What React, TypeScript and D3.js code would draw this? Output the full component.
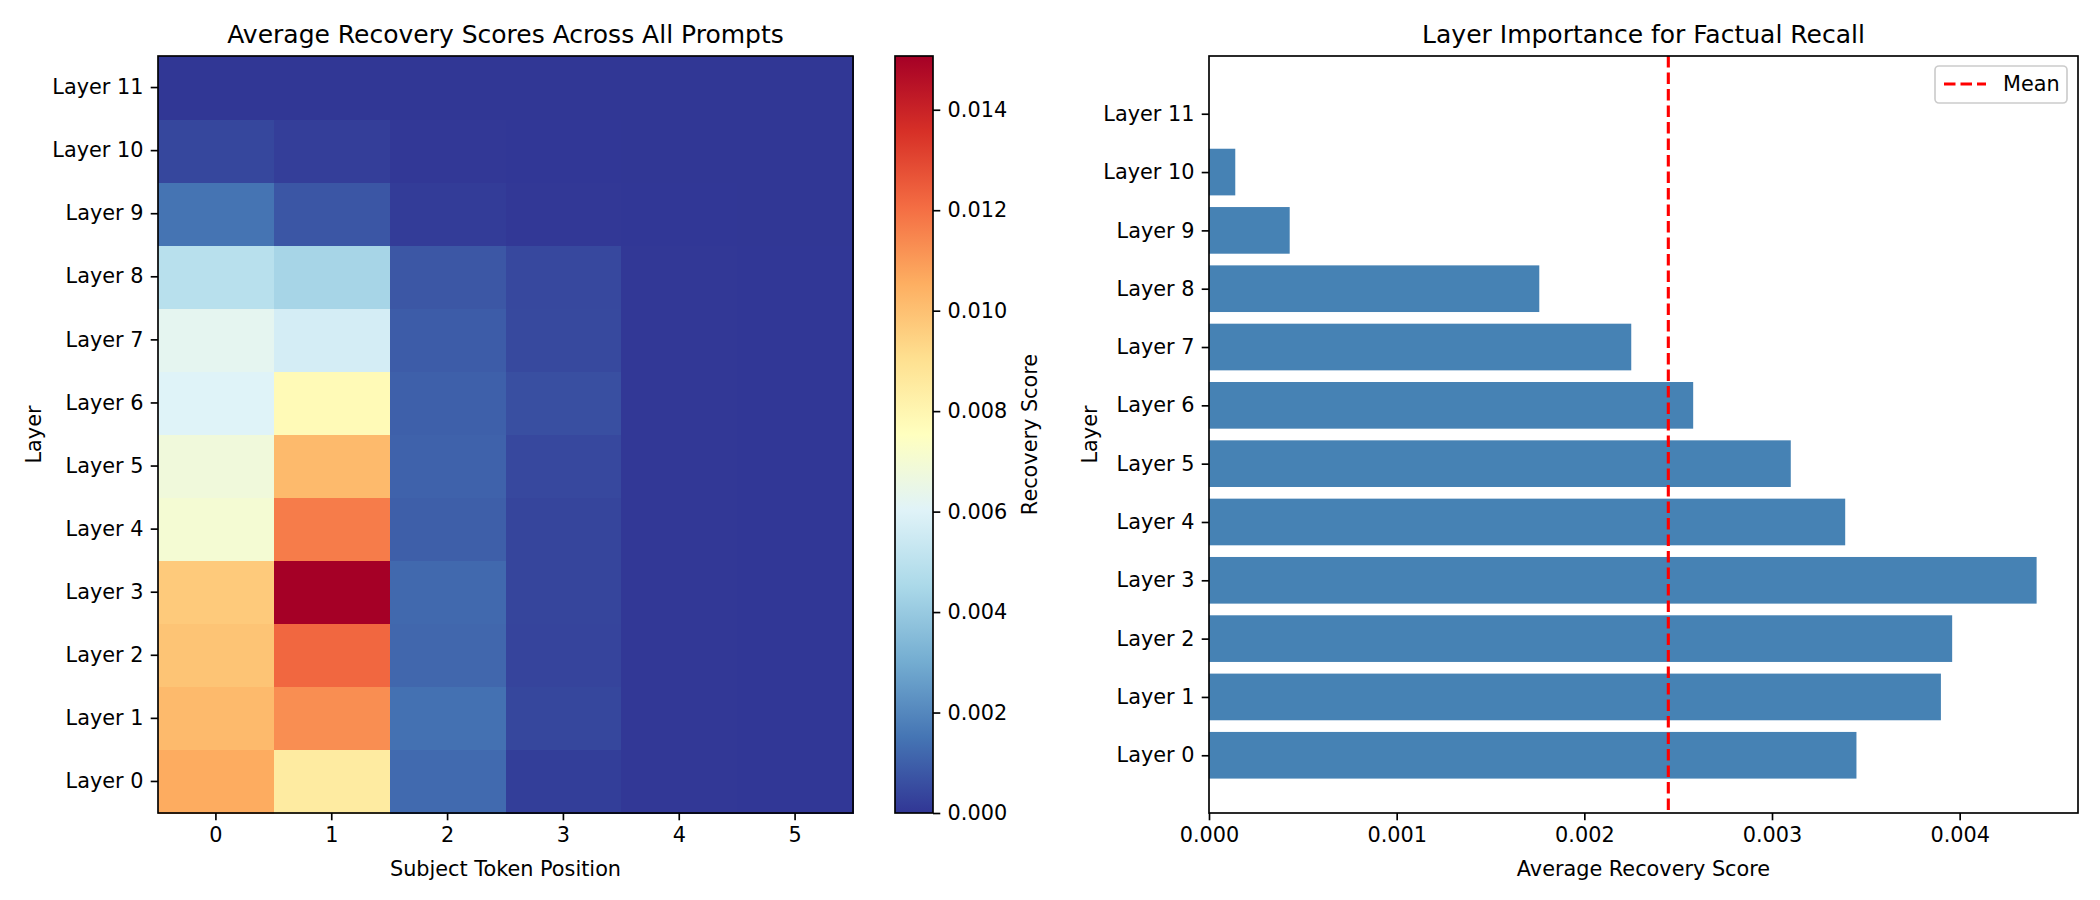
import * as d3 from "d3";
import { useEffect, useRef } from "react";

// --- data ---
const layerLabels = [
  "Layer 0", "Layer 1", "Layer 2", "Layer 3", "Layer 4", "Layer 5",
  "Layer 6", "Layer 7", "Layer 8", "Layer 9", "Layer 10", "Layer 11",
];
const tokenPositions = [0, 1, 2, 3, 4, 5];

// recovery score per layer (row) and subject token position (column)
const recoveryByLayer = [
  [0.0106, 0.0085, 0.00124, 0.00018, 0.00004, 0.00003], // layer 0
  [0.0102, 0.0113, 0.00142, 0.0004, 0.00004, 0.00003], // layer 1
  [0.0099, 0.0122, 0.00118, 0.00034, 0.00004, 0.00003], // layer 2
  [0.0097, 0.01507, 0.00122, 0.00036, 0.00004, 0.00003], // layer 3
  [0.007, 0.0117, 0.00098, 0.00036, 0.00004, 0.00003], // layer 4
  [0.0068, 0.0102, 0.00106, 0.00044, 0.00004, 0.00003], // layer 5
  [0.006, 0.0078, 0.001, 0.0006, 0.00004, 0.00003], // layer 6
  [0.00625, 0.0057, 0.0009, 0.00045, 0.00004, 0.00003], // layer 7
  [0.0049, 0.0044, 0.0008, 0.00044, 0.00004, 0.00003], // layer 8
  [0.00148, 0.00076, 0.00015, 0.00005, 0.00003, 0.00002], // layer 9
  [0.0004, 0.0002, 0.00005, 0.00003, 0.00002, 0.00002], // layer 10
  [0.00002, 0.00002, 0.00002, 0.00002, 0.00002, 0.00002], // layer 11
];

const layerImportance = [
  0.00345, 0.0039, 0.00396, 0.00441, 0.00339, 0.0031,
  0.00258, 0.00225, 0.00176, 0.00043, 0.00014, 0,
];

const colorbarTicks = [0, 0.002, 0.004, 0.006, 0.008, 0.01, 0.012, 0.014];
const importanceTicks = [0, 0.001, 0.002, 0.003, 0.004];

// matplotlib RdYlBu_r
const rdylbuR = [
  "#313695", "#4575b4", "#74add1", "#abd9e9", "#e0f3f8", "#ffffbf",
  "#fee090", "#fdae61", "#f46d43", "#d73027", "#a50026",
];

const W = 2100;
const H = 900;
const FONT = "DejaVu Sans";
const FS = 20.8;
const LW = 1.67;
const TICK = 7.3;

function styleAxis(g: d3.Selection<SVGGElement, unknown, null, undefined>) {
  g.select(".domain").remove();
  g.selectAll(".tick line").attr("stroke", "#000").attr("stroke-width", LW);
  g.selectAll(".tick text")
    .attr("fill", "#000")
    .attr("font-family", FONT)
    .attr("font-size", FS);
}

function App() {
  const ref = useRef<SVGSVGElement>(null);

  useEffect(() => {
    const svg = d3.select(ref.current);
    svg.selectAll("*").remove();

    // ---------- heatmap ----------
    const hm = { left: 158, right: 853, top: 56, bottom: 813 };
    const vmax = d3.max(recoveryByLayer.flat()) as number;
    const color = d3
      .scaleLinear<string>()
      .domain(rdylbuR.map((_, i) => (vmax * i) / (rdylbuR.length - 1)))
      .range(rdylbuR)
      .clamp(true);

    const x = d3
      .scaleBand()
      .domain(tokenPositions.map(String))
      .range([hm.left, hm.right]);
    const y = d3.scaleBand().domain(layerLabels).range([hm.bottom, hm.top]);

    const cells = recoveryByLayer.flatMap((row, li) =>
      row.map((v, pi) => ({ layer: layerLabels[li], pos: String(tokenPositions[pi]), v }))
    );

    svg
      .append("g")
      .selectAll("rect")
      .data(cells)
      .join("rect")
      .attr("x", (d) => x(d.pos)!)
      .attr("y", (d) => y(d.layer)!)
      .attr("width", x.bandwidth() + 0.5)
      .attr("height", y.bandwidth() + 0.5)
      .attr("fill", (d) => color(d.v))
      .attr("shape-rendering", "crispEdges");

    svg
      .append("rect")
      .attr("x", hm.left)
      .attr("y", hm.top)
      .attr("width", hm.right - hm.left)
      .attr("height", hm.bottom - hm.top)
      .attr("fill", "none")
      .attr("stroke", "#000")
      .attr("stroke-width", LW);

    svg
      .append("g")
      .attr("transform", `translate(0,${hm.bottom})`)
      .call(d3.axisBottom(x).tickSize(TICK).tickPadding(TICK).tickSizeOuter(0))
      .call(styleAxis);

    svg
      .append("g")
      .attr("transform", `translate(${hm.left},0)`)
      .call(d3.axisLeft(y).tickSize(TICK).tickPadding(TICK).tickSizeOuter(0))
      .call(styleAxis);

    svg
      .append("text")
      .attr("x", (hm.left + hm.right) / 2)
      .attr("y", 43)
      .attr("text-anchor", "middle")
      .attr("font-family", FONT)
      .attr("font-size", 25)
      .text("Average Recovery Scores Across All Prompts");

    svg
      .append("text")
      .attr("x", (hm.left + hm.right) / 2)
      .attr("y", 876)
      .attr("text-anchor", "middle")
      .attr("font-family", FONT)
      .attr("font-size", FS)
      .text("Subject Token Position");

    svg
      .append("text")
      .attr("transform", `translate(34,${(hm.top + hm.bottom) / 2}) rotate(-90)`)
      .attr("dy", "0.35em")
      .attr("text-anchor", "middle")
      .attr("font-family", FONT)
      .attr("font-size", FS)
      .text("Layer");

    // ---------- colorbar ----------
    const cb = { left: 895, right: 933 };
    const grad = svg
      .append("defs")
      .append("linearGradient")
      .attr("id", "cbar")
      .attr("x1", 0)
      .attr("y1", 1)
      .attr("x2", 0)
      .attr("y2", 0);
    grad
      .selectAll("stop")
      .data(rdylbuR)
      .join("stop")
      .attr("offset", (_, i) => i / (rdylbuR.length - 1))
      .attr("stop-color", (d) => d);

    svg
      .append("rect")
      .attr("x", cb.left)
      .attr("y", hm.top)
      .attr("width", cb.right - cb.left)
      .attr("height", hm.bottom - hm.top)
      .attr("fill", "url(#cbar)")
      .attr("stroke", "#000")
      .attr("stroke-width", LW);

    const cScale = d3.scaleLinear().domain([0, vmax]).range([hm.bottom, hm.top]);
    svg
      .append("g")
      .attr("transform", `translate(${cb.right},0)`)
      .call(
        d3
          .axisRight(cScale)
          .tickValues(colorbarTicks)
          .tickFormat(d3.format(".3f") as any)
          .tickSize(TICK)
          .tickPadding(TICK)
          .tickSizeOuter(0)
      )
      .call(styleAxis);

    svg
      .append("text")
      .attr("transform", `translate(1030,${(hm.top + hm.bottom) / 2}) rotate(-90)`)
      .attr("dy", "0.35em")
      .attr("text-anchor", "middle")
      .attr("font-family", FONT)
      .attr("font-size", FS)
      .text("Recovery Score");

    // ---------- bar chart ----------
    const bp = { left: 1209, right: 2078, top: 56, bottom: 813 };
    const xb = d3
      .scaleLinear()
      .domain([0, (d3.max(layerImportance) as number) * 1.05])
      .range([bp.left, bp.right]);
    const lo = -0.4;
    const hi = layerImportance.length - 1 + 0.4;
    const pad = (hi - lo) * 0.05;
    const yb = d3.scaleLinear().domain([lo - pad, hi + pad]).range([bp.bottom, bp.top]);

    svg
      .append("g")
      .selectAll("rect")
      .data(layerImportance)
      .join("rect")
      .attr("x", xb(0))
      .attr("y", (_, i) => yb(i + 0.4))
      .attr("width", (d) => xb(d) - xb(0))
      .attr("height", (_, i) => yb(i - 0.4) - yb(i + 0.4))
      .attr("fill", "steelblue");

    const mean = d3.mean(layerImportance) as number;
    svg
      .append("line")
      .attr("x1", xb(mean))
      .attr("x2", xb(mean))
      .attr("y1", bp.top)
      .attr("y2", bp.bottom)
      .attr("stroke", "red")
      .attr("stroke-width", 3.1)
      .attr("stroke-dasharray", "11.5,5");

    svg
      .append("rect")
      .attr("x", bp.left)
      .attr("y", bp.top)
      .attr("width", bp.right - bp.left)
      .attr("height", bp.bottom - bp.top)
      .attr("fill", "none")
      .attr("stroke", "#000")
      .attr("stroke-width", LW);

    svg
      .append("g")
      .attr("transform", `translate(0,${bp.bottom})`)
      .call(
        d3
          .axisBottom(xb)
          .tickValues(importanceTicks)
          .tickFormat(d3.format(".3f") as any)
          .tickSize(TICK)
          .tickPadding(TICK)
          .tickSizeOuter(0)
      )
      .call(styleAxis);

    svg
      .append("g")
      .attr("transform", `translate(${bp.left},0)`)
      .call(
        d3
          .axisLeft(yb)
          .tickValues(d3.range(layerLabels.length))
          .tickFormat((i) => layerLabels[i as number])
          .tickSize(TICK)
          .tickPadding(TICK)
          .tickSizeOuter(0)
      )
      .call(styleAxis);

    svg
      .append("text")
      .attr("x", (bp.left + bp.right) / 2)
      .attr("y", 43)
      .attr("text-anchor", "middle")
      .attr("font-family", FONT)
      .attr("font-size", 25)
      .text("Layer Importance for Factual Recall");

    svg
      .append("text")
      .attr("x", (bp.left + bp.right) / 2)
      .attr("y", 876)
      .attr("text-anchor", "middle")
      .attr("font-family", FONT)
      .attr("font-size", FS)
      .text("Average Recovery Score");

    svg
      .append("text")
      .attr("transform", `translate(1090,${(bp.top + bp.bottom) / 2}) rotate(-90)`)
      .attr("dy", "0.35em")
      .attr("text-anchor", "middle")
      .attr("font-family", FONT)
      .attr("font-size", FS)
      .text("Layer");

    // legend
    const lg = svg.append("g").attr("transform", "translate(1935,66)");
    lg.append("rect")
      .attr("width", 132)
      .attr("height", 37)
      .attr("rx", 4)
      .attr("fill", "#fff")
      .attr("fill-opacity", 0.8)
      .attr("stroke", "#cccccc")
      .attr("stroke-width", LW);
    lg.append("line")
      .attr("x1", 9)
      .attr("x2", 51)
      .attr("y1", 18)
      .attr("y2", 18)
      .attr("stroke", "red")
      .attr("stroke-width", 3.1)
      .attr("stroke-dasharray", "11.5,5");
    lg.append("text")
      .attr("x", 68)
      .attr("y", 18)
      .attr("dy", "0.35em")
      .attr("font-family", FONT)
      .attr("font-size", FS)
      .text("Mean");
  }, []);

  return (
    <svg
      ref={ref}
      width={W}
      height={H}
      style={{ position: "absolute", left: 0, top: 0, background: "#fff" }}
    />
  );
}

export default App;
